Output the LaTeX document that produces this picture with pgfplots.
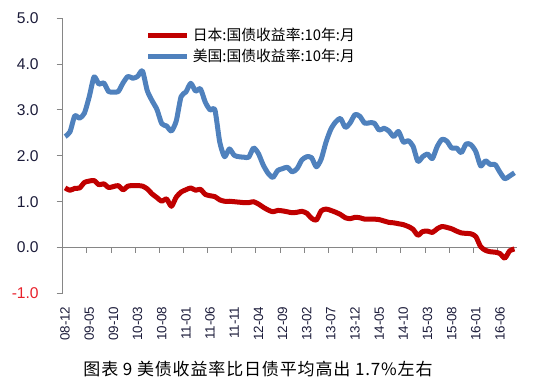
\documentclass[border=0pt]{standalone}
\usepackage{pgfplots}
\pgfplotsset{compat=1.18}
\usepackage{pgfplotstable}
\usepackage{fontspec}
\setmainfont{Liberation Sans}
\newfontfamily\cjk{Noto Sans CJK SC}
\definecolor{jpred}{HTML}{C00000}
\definecolor{usblue}{HTML}{4F81BD}
\definecolor{axgray}{HTML}{868686}
\definecolor{lblred}{HTML}{E8202A}
\definecolor{lbldark}{HTML}{1C1C3A}

\pgfplotstableread{
i us jp
0 2.42 1.30
1 2.52 1.25
2 2.87 1.29
3 2.82 1.30
4 2.93 1.42
5 3.29 1.45
6 3.72 1.46
7 3.56 1.37
8 3.59 1.39
9 3.40 1.31
10 3.39 1.33
11 3.40 1.35
12 3.59 1.26
13 3.73 1.34
14 3.69 1.35
15 3.73 1.35
16 3.85 1.34
17 3.42 1.28
18 3.20 1.17
19 3.01 1.09
20 2.70 1.01
21 2.65 1.06
22 2.54 0.90
23 2.76 1.10
24 3.29 1.21
25 3.39 1.26
26 3.58 1.30
27 3.41 1.25
28 3.46 1.27
29 3.17 1.16
30 3.00 1.13
31 3.00 1.11
32 2.30 1.04
33 1.98 1.01
34 2.15 1.01
35 2.01 1.00
36 1.98 0.99
37 1.97 0.98
38 1.97 0.98
39 2.17 1.00
40 2.05 0.95
41 1.80 0.88
42 1.62 0.82
43 1.53 0.78
44 1.68 0.81
45 1.72 0.80
46 1.75 0.78
47 1.65 0.76
48 1.72 0.77
49 1.91 0.79
50 1.98 0.75
51 1.96 0.64
52 1.76 0.60
53 1.93 0.80
54 2.30 0.84
55 2.58 0.81
56 2.74 0.77
57 2.81 0.72
58 2.62 0.65
59 2.72 0.63
60 2.90 0.66
61 2.86 0.65
62 2.71 0.62
63 2.72 0.62
64 2.71 0.62
65 2.56 0.61
66 2.60 0.58
67 2.54 0.55
68 2.42 0.54
69 2.53 0.52
70 2.30 0.50
71 2.33 0.46
72 2.21 0.40
73 1.88 0.27
74 1.98 0.35
75 2.04 0.36
76 1.94 0.33
77 2.20 0.41
78 2.36 0.46
79 2.32 0.44
80 2.17 0.41
81 2.17 0.36
82 2.07 0.32
83 2.26 0.31
84 2.24 0.30
85 2.09 0.24
86 1.78 0.02
87 1.89 -0.06
88 1.81 -0.09
89 1.81 -0.10
90 1.64 -0.13
91 1.50 -0.23
92 1.56 -0.07
93 1.63 -0.03
}\datatable

\begin{document}
\begin{tikzpicture}
\path[use as bounding box] (-31.35pt,-46.25pt) rectangle (243.65pt,146.75pt);
\begin{axis}[
  at={(0pt,0pt)}, anchor=south west,
  scale only axis, width=227.1pt, height=137.7pt,
  xmin=-0.5, xmax=93.5, ymin=-1, ymax=5,
  axis lines*=left,
  x axis line style={draw=none},
  y axis line style={axgray, line width=0.5pt},
  tick align=outside,
  major tick length=3pt,
  xtick style={draw=none},
  ytick style={axgray, line width=0.5pt},
  ytick={-1,0,1,2,3,4,5},
  yticklabels={\textcolor{lblred}{-1.0},0.0,1.0,2.0,3.0,4.0,5.0},
  yticklabel style={font=\fontsize{7.8}{9}\selectfont, text=lbldark, xshift=-5.5pt},
  xtick={0,5,...,90},
  xticklabels={08-12,09-05,09-10,10-03,10-08,11-01,11-06,11-11,12-04,12-09,13-02,13-07,13-12,14-05,14-10,15-03,15-08,16-01,16-06},
  xticklabel style={rotate=90, anchor=east, font=\fontsize{6.7}{8}\selectfont, text=lbldark},
  legend style={at={(rel axis cs:0.169,0.995)}, anchor=north west, draw=none, fill=none,
    font=\cjk\fontsize{7.4}{8}\selectfont, row sep=-1.2pt, nodes={inner xsep=1.5pt}},
  legend cell align=left,
  legend image code/.code={\draw[#1] (0pt,0pt) -- (19.5pt,0pt);},
  clip=false,
]
\draw[axgray, line width=0.5pt] (axis cs:-0.5,0) -- (axis cs:93.5,0);
\pgfplotsinvokeforeach{4.5,9.5,...,89.5}{\draw[axgray, line width=0.5pt] (axis cs:#1,0) -- ++(0pt,-2.5pt);}
\addplot[jpred, line width=2.5pt, line join=round, smooth, tension=0.4] table[x=i, y=jp] {\datatable};
\addlegendentry{日本:国债收益率:10年:月}
\addplot[usblue, line width=2.5pt, line join=round, smooth, tension=0.4] table[x=i, y=us] {\datatable};
\addlegendentry{美国:国债收益率:10年:月}
\end{axis}
\node[font=\cjk\fontsize{8.5}{10}\selectfont\addfontfeature{LetterSpace=5}, text=black] at (97.65pt,-37.5pt) {图表 9 美债收益率比日债平均高出 1.7\%左右};
\end{tikzpicture}
\end{document}
